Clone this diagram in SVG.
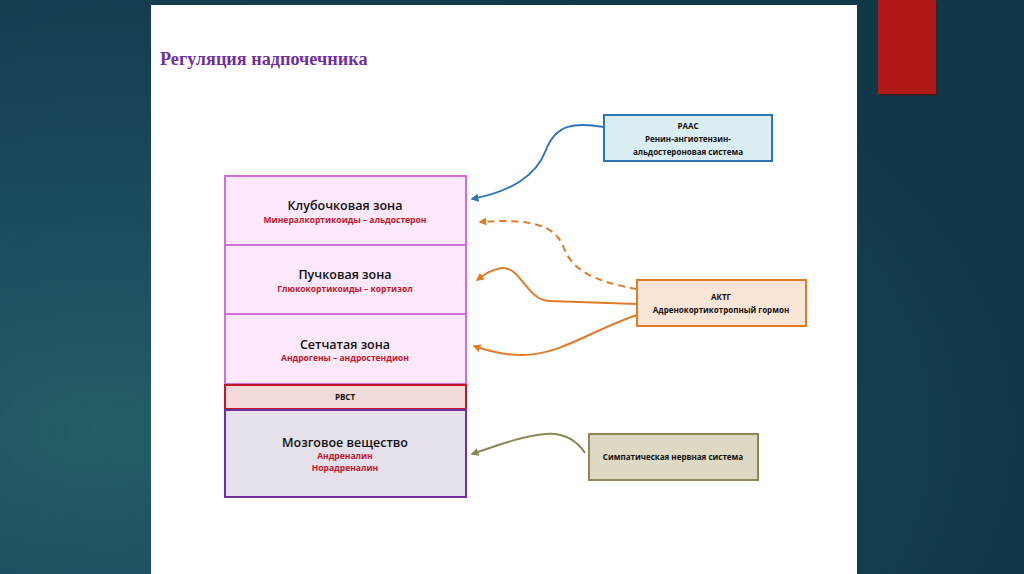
<svg xmlns="http://www.w3.org/2000/svg" width="1024" height="574" viewBox="0 0 1024 574">
<defs>
<radialGradient id="bg" cx="0.1" cy="0.75" r="0.9">
<stop offset="0" stop-color="#245d66"/>
<stop offset="0.5" stop-color="#19495a"/>
<stop offset="1" stop-color="#113848"/>
</radialGradient>
<marker id="aBlue" viewBox="0 0 10 10" refX="8" refY="5" markerWidth="4" markerHeight="4" orient="auto-start-reverse" markerUnits="strokeWidth"><path d="M0,0 L10,5 L0,10 z" fill="#2e75b6"/></marker>
<marker id="aOr" viewBox="0 0 10 10" refX="8" refY="5" markerWidth="4" markerHeight="4" orient="auto-start-reverse" markerUnits="strokeWidth"><path d="M0,0 L10,5 L0,10 z" fill="#e07b28"/></marker>
<marker id="aOl" viewBox="0 0 10 10" refX="8" refY="5" markerWidth="4" markerHeight="4" orient="auto-start-reverse" markerUnits="strokeWidth"><path d="M0,0 L10,5 L0,10 z" fill="#8c8658"/></marker>
</defs>
<style>
.t{font-family:"Open Sans","Liberation Sans",sans-serif;text-anchor:middle}
.h{font-size:12.5px;font-weight:600;fill:#111}
.s{font-size:8.5px;font-weight:bold;fill:#c0182a}
.b{font-size:8px;font-weight:bold;fill:#111}
.zone{fill:#fbe8fb;stroke:#d070d8;stroke-width:2}
.c{fill:none;stroke-width:2}
</style>
<rect width="1024" height="574" fill="url(#bg)"/>
<rect x="151" y="5" width="706" height="569" fill="#ffffff"/>
<rect x="880" y="2" width="58" height="94" fill="#5a1010" opacity="0.5"/>
<rect x="878" y="0" width="58" height="94" fill="#ae1917"/>
<text x="160" y="65" font-family="Liberation Serif,serif" font-weight="bold" font-size="18.2" fill="#7030a0">Регуляция надпочечника</text>

<g id="zona-glomerulosa">
<rect class="zone" x="225" y="176" width="241" height="69"/>
<text class="t h" x="345" y="210">Клубочковая зона</text>
<text class="t s" x="345" y="223">Минералкортикоиды – альдостерон</text>
</g>
<g id="zona-fasciculata">
<rect class="zone" x="225" y="245" width="241" height="69"/>
<text class="t h" x="345" y="279">Пучковая зона</text>
<text class="t s" x="345" y="292">Глюкокортикоиды – кортизол</text>
</g>
<g id="zona-reticularis">
<rect class="zone" x="225" y="314" width="241" height="70"/>
<text class="t h" x="345" y="349">Сетчатая зона</text>
<text class="t s" x="345" y="361">Андрогены – андростендион</text>
</g>
<g id="rvst">
<rect x="225" y="385" width="241" height="24" fill="#f3dada" stroke="#c0182a" stroke-width="2"/>
<text class="t b" x="345" y="400">РВСТ</text>
</g>
<g id="medulla">
<rect x="225" y="410" width="241" height="87" fill="#e5e0ea" stroke="#7030a0" stroke-width="2"/>
<text class="t h" x="345" y="447">Мозговое вещество</text>
<text class="t s" x="345" y="459">Андреналин</text>
<text class="t s" x="345" y="471">Норадреналин</text>
</g>
<g id="raas">
<rect x="604" y="115" width="168" height="46" fill="#dbeef4" stroke="#2e75b6" stroke-width="2"/>
<text class="t b" x="688" y="129">РААС</text>
<text class="t b" x="688" y="142">Ренин-ангиотензин-</text>
<text class="t b" x="688" y="155">альдостероновая система</text>
</g>
<g id="aktg">
<rect x="637" y="280" width="169" height="46" fill="#fbe5d6" stroke="#e07b28" stroke-width="2"/>
<text class="t b" x="721" y="300">АКТГ</text>
<text class="t b" x="721" y="313">Адренокортикотропный гормон</text>
</g>
<g id="sns">
<rect x="589" y="434" width="169" height="46" fill="#ddd9c3" stroke="#8c8658" stroke-width="2"/>
<text class="t b" x="673" y="460">Симпатическая нервная система</text>
</g>

<g id="connectors">
<path class="c" stroke="#2e75b6" marker-end="url(#aBlue)" d="M604,127 C575,122 556,124 546,150 C536,176 512,191 472,199"/>
<path class="c" stroke="#e07b28" stroke-dasharray="7,5" marker-end="url(#aOr)" d="M637,289 C592,281 572,270 563,246 C555,226 532,218 480,222"/>
<path class="c" stroke="#e07b28" marker-end="url(#aOr)" d="M637,304 L549,301 C527,300 520,266 502,268 C492,269 484,275 477,280"/>
<path class="c" stroke="#e07b28" marker-end="url(#aOr)" d="M637,315 C592,330 560,355 522,355 C502,355 488,351 474,346"/>
<path class="c" stroke="#8c8658" marker-end="url(#aOl)" d="M585,453 C575,438 561,433 546,434 C521,436 496,446 472,454"/>
</g>
</svg>
